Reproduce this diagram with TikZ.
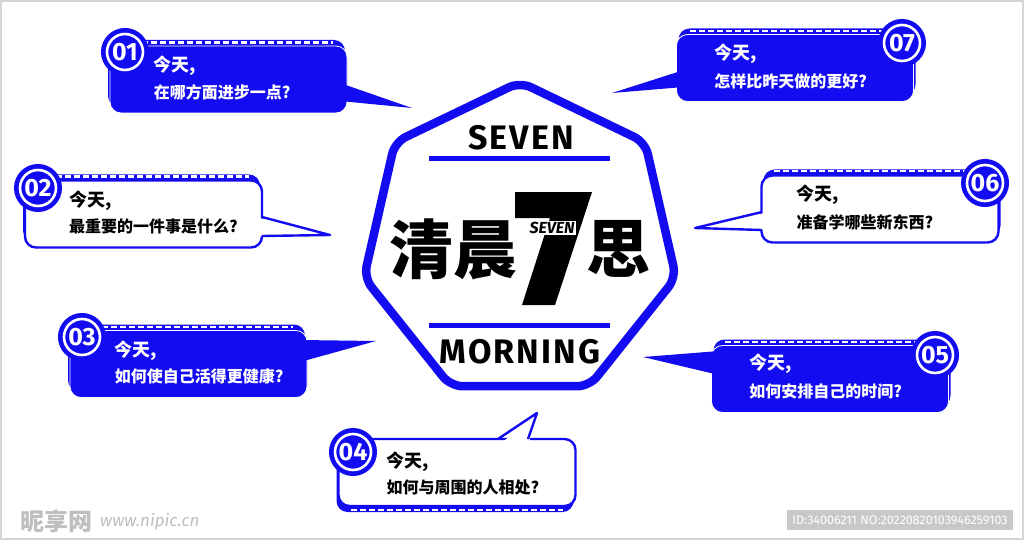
\documentclass[tikz,border=0pt]{standalone}
\usepackage{fontspec}
\setmainfont{Fira Sans}
\newfontfamily\cjk{Noto Sans CJK SC}
\newfontfamily\titlefont{Fira Sans}[LetterSpace=6]
\usetikzlibrary{positioning}
\definecolor{bblue}{RGB}{20,12,240}
\definecolor{frameg}{RGB}{214,214,214}
\definecolor{idgray}{RGB}{200,200,200}
\definecolor{wmgray}{RGB}{190,190,190}
\tikzset{backbox/.style = {fill=bblue, rounded corners=11pt, inner sep=0,
                           minimum width=237pt, minimum height=67pt}}
\tikzset{fillbox/.style = {backbox, draw=white, line width=0.8pt}}
\tikzset{linebox/.style = {backbox, fill=white, draw=bblue, line width=2.4pt}}
\tikzset{band/.style = {white, line width=2.4pt, dash pattern=on 6pt off 3pt}}
\tikzset{tailline/.style = {bblue, line width=2.4pt, line join=round}}
\tikzset{numdot/.style = {circle, fill=bblue, draw=white, line width=2.6pt,
                          minimum size=36pt, inner sep=0, text=white,
                          preaction={draw=bblue, line width=12pt},
                          font=\bfseries\fontsize{25}{25}\selectfont}}
\tikzset{askhead/.style = {anchor=west, inner sep=0,
                           font=\cjk\bfseries\fontsize{18}{18}\selectfont}}
\tikzset{askline/.style = {anchor=west, inner sep=0,
                           font=\cjk\bfseries\fontsize{16}{16}\selectfont}}
\tikzset{bigword/.style = {inner sep=0, font=\cjk\bfseries\fontsize{64}{64}\selectfont}}
\tikzset{titleword/.style = {inner sep=0, font=\titlefont\bfseries\fontsize{34}{34}\selectfont}}

\begin{document}
\begin{tikzpicture}[x=1pt, y=-1pt]
  \useasboundingbox (0,0) rectangle (1024,540);
  \fill[white] (0,0) rectangle (1024,540);
  \draw[frameg, line width=1.5pt] (1,1) rectangle (1023,539);

  % centre
  \draw[bblue, line width=8.5pt, rounded corners=12pt] (520,82) -- (645.1,142.2)
    -- (676,277.6) -- (589.4,386.2) -- (450.6,386.2) -- (364,277.6)
    -- (394.9,142.2) -- cycle;
  \node[titleword] (seven) at (521,138) {SEVEN};
  \draw[bblue, line width=5pt] (429,159) -- (610,159);
  \draw[bblue, line width=5pt] (429,325) -- (610,325);
  \node[titleword] (morning) at (520,352) {MORNING};
  \node[bigword] (qing) at (453,249) {清晨};
  \node[bigword] (si) at (618,249) {思};
  \fill (515,192) -- (592,192) -- (555,305) -- (522,305) -- (550,218)
    -- (515,218) -- cycle;
  \node[fill=white, inner sep=1.5pt,
        font=\bfseries\itshape\fontsize{16}{16}\selectfont] (small) at (552,228) {SEVEN};

  % 01
  \node[backbox] (k1) at (226.5,73.5) {};
  \node[fillbox] (b1) at (228.5,79.5) {};
  \draw[band] ([xshift=14pt,yshift=3pt]b1.north west) -- ([xshift=-14pt,yshift=3pt]b1.north east);
  \coordinate (t1) at (412,108);
  \fill[bblue] (340,83) -- (t1) -- (340,101) -- cycle;
  \node[numdot] (n1) at (125,52) {01};
  \node[askhead, text=white] (h1) at ([xshift=44pt,yshift=13.5pt]b1.west) {今天,};
  \node[askline, text=white, below=26pt of h1.west, anchor=west] (q1) {在哪方面进步一点?};

  % 02
  \node[backbox] (k2) at (141.5,208) {};
  \node[linebox] (b2) at (143.5,214) {};
  \draw[band] ([xshift=14pt,yshift=3pt]b2.north west) -- ([xshift=-14pt,yshift=3pt]b2.north east);
  \coordinate (t2) at (330,235);
  \fill[white] (255,217) -- (t2) -- (255,236) -- cycle;
  \draw[tailline] (262,217) -- (t2) -- (262,236);
  \node[numdot] (n2) at (38,188) {02};
  \node[askhead] (h2) at ([xshift=45pt,yshift=13.5pt]b2.west) {今天,};
  \node[askline, below=26pt of h2.west, anchor=west] (q2) {最重要的一件事是什么?};

  % 03
  \node[backbox] (k3) at (186.5,358) {};
  \node[fillbox] (b3) at (188.5,364) {};
  \draw[band] ([xshift=14pt,yshift=3pt]b3.north west) -- ([xshift=-14pt,yshift=3pt]b3.north east);
  \coordinate (t3) at (376,341);
  \fill[bblue] (300,340) -- (t3) -- (300,362) -- cycle;
  \node[numdot] (n3) at (82,337) {03};
  \node[askhead, text=white] (h3) at ([xshift=45pt,yshift=13.5pt]b3.west) {今天,};
  \node[askline, text=white, below=26pt of h3.west, anchor=west] (q3) {如何使自己活得更健康?};

  % 04
  \node[backbox] (k4) at (455,478.5) {};
  \node[linebox] (b4) at (457,472.5) {};
  \draw[band] ([xshift=14pt,yshift=-3pt]b4.south west) -- ([xshift=-14pt,yshift=-3pt]b4.south east);
  \coordinate (t4) at (537,413);
  \fill[white] (498,446) -- (t4) -- (528,446) -- cycle;
  \draw[tailline] (498,439) -- (t4) -- (528,439);
  \node[numdot] (n4) at (353,452) {04};
  \node[askhead] (h4) at ([xshift=49pt,yshift=11pt]b4.west) {今天,};
  \node[askline, below=26pt of h4.west, anchor=west] (q4) {如何与周围的人相处?};

  % 05
  \node[backbox] (k5) at (832,373) {};
  \node[fillbox] (b5) at (830,379) {};
  \draw[band] ([xshift=14pt,yshift=3pt]b5.north west) -- ([xshift=-14pt,yshift=3pt]b5.north east);
  \coordinate (t5) at (643,357);
  \fill[bblue] (719,351) -- (t5) -- (719,375) -- cycle;
  \node[numdot] (n5) at (935,355) {05};
  \node[askhead, text=white] (h5) at ([xshift=38pt,yshift=15pt]b5.west) {今天,};
  \node[askline, text=white, below=27pt of h5.west, anchor=west] (q5) {如何安排自己的时间?};

  % 06
  \node[backbox] (k6) at (882,203) {};
  \node[linebox] (b6) at (880,209) {};
  \draw[band] ([xshift=14pt,yshift=3pt]b6.north west) -- ([xshift=-14pt,yshift=3pt]b6.north east);
  \coordinate (t6) at (695,228);
  \fill[white] (769,212) -- (t6) -- (769,230) -- cycle;
  \draw[tailline] (762,212) -- (t6) -- (762,230);
  \node[numdot] (n6) at (985,183) {06};
  \node[askhead] (h6) at ([xshift=36pt,yshift=14pt]b6.west) {今天,};
  \node[askline, below=27pt of h6.west, anchor=west] (q6) {准备学哪些新东西?};

  % 07
  \node[backbox] (k7) at (797,62) {};
  \node[fillbox] (b7) at (795,68) {};
  \draw[band] ([xshift=14pt,yshift=3pt]b7.north west) -- ([xshift=-14pt,yshift=3pt]b7.north east);
  \coordinate (t7) at (612,93);
  \fill[bblue] (684,70) -- (t7) -- (684,87) -- cycle;
  \node[numdot] (n7) at (902,43) {07};
  \node[askhead, text=white] (h7) at ([xshift=38pt,yshift=14pt]b7.west) {今天,};
  \node[askline, text=white, below=27pt of h7.west, anchor=west] (q7) {怎样比昨天做的更好?};

  % watermark and id
  \node[anchor=west, inner sep=0, text=wmgray,
        font=\cjk\bfseries\fontsize{24}{24}\selectfont] (wm) at (20,521) {昵享网};
  \node[anchor=west, inner sep=0, text=wmgray,
        font=\itshape\fontsize{17}{17}\selectfont] (url) at (100,522) {www.nipic.cn};
  \node[fill=idgray, text=white, inner sep=0, minimum width=226pt, minimum height=20pt,
        font=\fontsize{12.5}{12.5}\selectfont] (idbox) at (900,520)
        {ID:34006211 NO:20220820103946259103};
\end{tikzpicture}
\end{document}
